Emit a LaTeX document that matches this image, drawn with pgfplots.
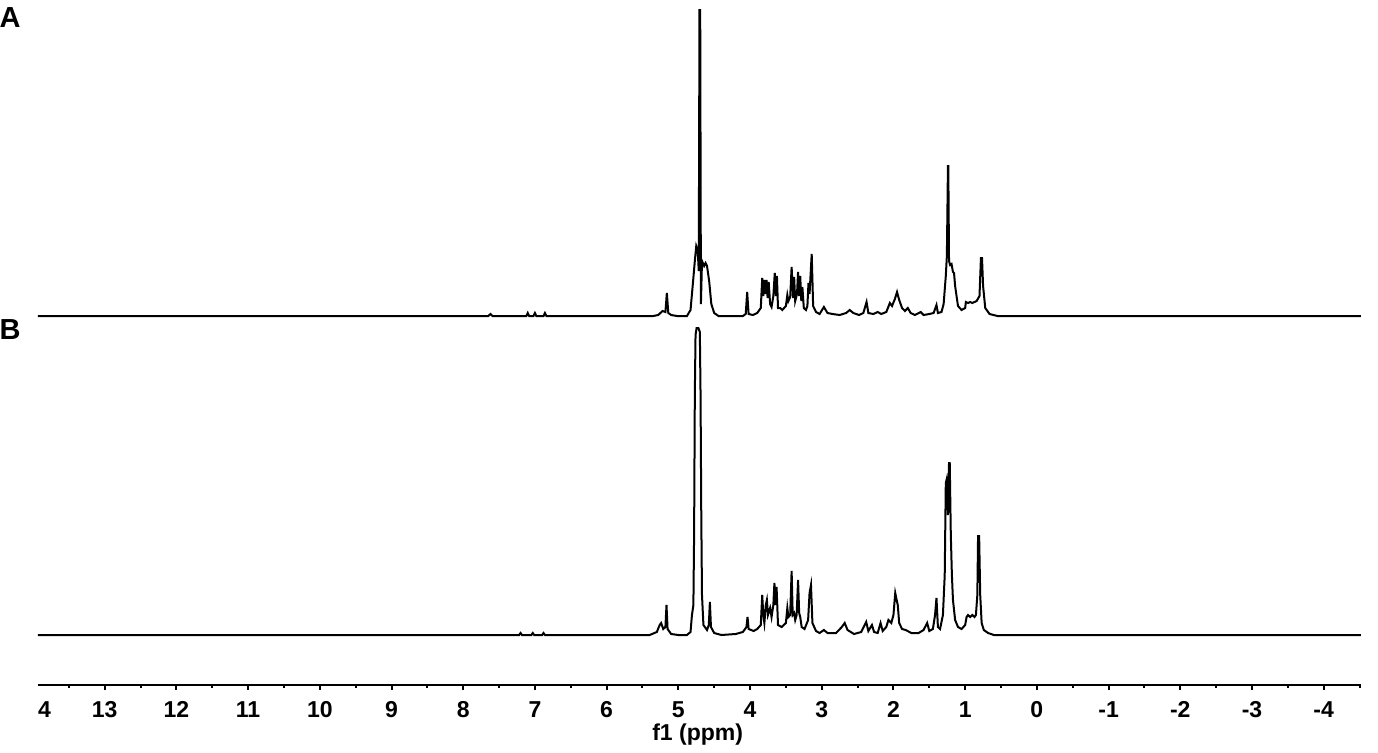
\documentclass[border=0pt]{standalone}
\usepackage{pgfplots}
\pgfplotsset{compat=1.18}
\usepackage{fontspec}
\setmainfont{Liberation Sans}
\begin{document}
\begin{tikzpicture}
\path[use as bounding box] (-19pt,-33.5pt) rectangle (670pt,342.5pt);
\begin{axis}[
  at={(0,0)}, anchor=south west,
  scale only axis, width=661.5pt, height=338.5pt,
  xmin=-4.52, xmax=13.93, ymin=-50, ymax=627,
  x dir=reverse,
  axis x line=bottom, axis y line=none,
  axis line style={line width=1pt, -},
  clip=false,
  xtick={-4,-3,-2,-1,0,1,2,3,4,5,6,7,8,9,10,11,12,13},
  xticklabels={-4,-3,-2,-1,0,1,2,3,4,5,6,7,8,9,10,11,12,13},
  minor xtick={-4.5,-3.5,-2.5,-1.5,-0.5,0.5,1.5,2.5,3.5,4.5,5.5,6.5,7.5,8.5,9.5,10.5,11.5,12.5,13.5},
  tick align=outside,
  major tick length=2.5pt, minor tick length=1.5pt,
  every tick/.style={line width=1pt, black},
  xticklabel style={font=\bfseries\fontsize{11.5}{13}\selectfont, anchor=base, yshift=-13.5pt},
]
% Spectrum B (bottom)
\addplot[black, line width=1pt] table {
x y
13.93 0
7.22 0
7.20 2
7.18 0
7.05 0
7.03 2
7.01 0
6.90 0
6.88 2
6.86 0
5.40 0
5.30 3
5.26 10
5.24 12
5.21 6
5.18 8
5.165 30
5.15 6
5.10 1
5.00 0
4.88 0
4.83 3
4.81 20
4.79 30
4.78 100
4.77 240
4.76 300
4.745 307
4.72 307
4.70 303
4.69 240
4.68 120
4.67 40
4.65 10
4.60 5
4.575 10
4.56 33
4.545 8
4.50 2
4.40 0
4.20 1
4.10 3
4.05 8
4.035 18
4.02 6
3.95 4
3.90 6
3.85 10
3.83 40
3.815 20
3.80 12
3.78 30
3.765 35
3.75 20
3.72 27
3.70 18
3.675 30
3.66 52
3.645 30
3.63 48
3.61 10
3.56 8
3.50 12
3.48 27
3.465 18
3.44 20
3.42 64
3.405 20
3.385 22
3.37 15
3.35 20
3.33 55
3.315 22
3.30 18
3.28 8
3.24 6
3.19 15
3.17 42
3.15 50
3.13 12
3.08 4
3.03 2
2.97 5
2.92 2
2.80 2
2.72 8
2.68 12
2.64 5
2.55 1
2.45 3
2.38 13
2.35 4
2.30 10
2.27 3
2.22 2
2.18 12
2.15 4
2.10 8
2.07 15
2.03 12
2.00 20
1.975 42
1.955 35
1.94 30
1.92 12
1.88 6
1.83 5
1.75 2
1.65 2
1.58 5
1.53 12
1.50 4
1.45 6
1.42 20
1.40 37
1.38 8
1.35 6
1.31 20
1.285 60
1.27 152
1.26 155
1.24 120
1.225 172
1.215 172
1.20 100
1.185 60
1.17 35
1.14 15
1.10 8
1.05 6
1.00 10
0.98 18
0.96 20
0.93 18
0.90 20
0.87 18
0.85 20
0.83 40
0.82 99
0.805 99
0.79 40
0.77 12
0.74 5
0.68 2
0.60 0
-4.52 0
};
% Spectrum A (top), drawn 319 units above B
\addplot[black, line width=1pt, y filter/.expression={y+319}] table {
x y
13.93 0
7.65 0
7.62 2
7.59 0
7.12 0
7.10 3
7.08 0
7.02 0
7.00 3
6.98 0
6.88 0
6.86 3
6.84 0
5.35 0
5.28 1
5.22 5
5.18 4
5.16 23
5.14 3
5.10 1
5.02 0
4.88 0
4.83 6
4.80 30
4.77 55
4.75 70
4.73 66
4.715 45
4.705 306
4.695 306
4.685 12
4.67 55
4.64 50
4.62 53
4.60 50
4.57 35
4.54 12
4.50 3
4.44 0
4.10 0
4.06 2
4.04 24
4.02 2
3.96 1
3.90 3
3.85 8
3.83 38
3.815 20
3.80 36
3.785 22
3.77 36
3.755 18
3.74 34
3.72 12
3.70 9
3.675 20
3.655 43
3.64 20
3.625 40
3.61 8
3.58 8
3.55 6
3.50 10
3.48 21
3.465 15
3.44 19
3.42 49
3.40 18
3.385 39
3.37 15
3.345 22
3.33 44
3.315 20
3.30 40
3.285 15
3.27 29
3.25 8
3.22 6
3.20 10
3.185 33
3.17 22
3.14 62
3.12 10
3.08 4
3.03 2
2.97 9
2.92 3
2.85 2
2.75 1
2.66 3
2.61 6
2.56 3
2.48 1
2.42 3
2.375 14
2.35 3
2.28 2
2.22 4
2.17 2
2.10 4
2.05 13
2.02 10
1.98 17
1.95 24
1.92 16
1.88 8
1.84 5
1.80 8
1.76 3
1.70 1
1.62 4
1.58 1
1.50 2
1.44 3
1.40 11
1.38 3
1.33 4
1.30 12
1.27 40
1.255 60
1.24 150
1.235 150
1.225 55
1.21 51
1.19 52
1.17 44
1.155 43
1.14 30
1.10 10
1.05 6
1.00 8
0.99 14
0.96 13
0.93 14
0.90 13
0.87 14
0.84 15
0.80 20
0.78 58
0.765 58
0.75 30
0.72 8
0.66 2
0.55 0
-4.52 0
};
\node[font=\bfseries\fontsize{11.5}{13}\selectfont, anchor=base] at ([yshift=-16pt]axis cs:13.84,-50) {4};
\node[font=\bfseries\fontsize{11.5}{13}\selectfont, anchor=base] at ([yshift=-27.5pt]axis cs:4.73,-50) {f1 (ppm)};
\end{axis}
\node[font=\bfseries\fontsize{14.5}{16}\selectfont] at (-14pt,333.5pt) {A};
\node[font=\bfseries\fontsize{14.5}{16}\selectfont] at (-14pt,177.5pt) {B};
\end{tikzpicture}
\end{document}
